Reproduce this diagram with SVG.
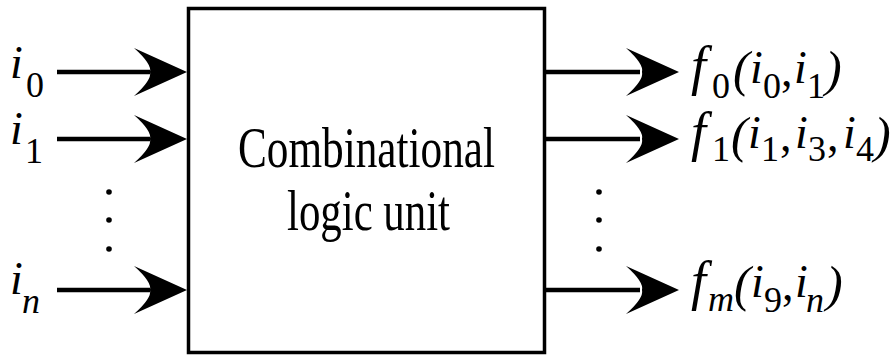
<svg xmlns="http://www.w3.org/2000/svg" width="894" height="358" viewBox="0 0 894 358">
<style>
  .t { font-family: "Liberation Serif", "Times New Roman", serif; fill: #000; }
  .it { font-style: italic; }
  .m { font-size: 46px; }
  .s { font-size: 36px; font-style: normal; }
  .si { font-size: 36px; font-style: italic; }
  .f { font-size: 54px; font-style: italic; }
  .p { font-size: 50px; font-style: italic; }
  .line { stroke: #000; stroke-width: 4.5; fill: none; }
  .head { fill: #000; stroke: none; }
  .dot { fill: #000; }
</style>
<rect width="894" height="358" fill="#fff"/>

<g id="unit">
  <rect x="188.5" y="8.5" width="356" height="344" fill="#fff" stroke="#000" stroke-width="3.5"/>
  <text class="t" x="366.5" y="167" font-size="57" text-anchor="middle" textLength="257" lengthAdjust="spacingAndGlyphs">Combinational</text>
  <text class="t" x="368.5" y="230" font-size="57" text-anchor="middle" textLength="163" lengthAdjust="spacingAndGlyphs">logic unit</text>
</g>

<g id="connectors">
  <line class="line" x1="57" y1="72" x2="150" y2="72"/>
  <path class="head" d="M187,72 L134,48 Q152,64 150,72 Q152,80 134,96 Z"/>
  <line class="line" x1="57" y1="139" x2="150" y2="139"/>
  <path class="head" d="M187,139 L134,115 Q152,131 150,139 Q152,147 134,163 Z"/>
  <line class="line" x1="57" y1="290" x2="150" y2="290"/>
  <path class="head" d="M187,290 L134,266 Q152,282 150,290 Q152,298 134,314 Z"/>

  <line class="line" x1="546" y1="72" x2="640" y2="72"/>
  <path class="head" d="M679,72 L626,48 Q644,64 642,72 Q644,80 626,96 Z"/>
  <line class="line" x1="546" y1="139" x2="640" y2="139"/>
  <path class="head" d="M679,139 L626,115 Q644,131 642,139 Q644,147 626,163 Z"/>
  <line class="line" x1="546" y1="290" x2="640" y2="290"/>
  <path class="head" d="M679,290 L626,266 Q644,282 642,290 Q644,298 626,314 Z"/>
</g>

<g id="input-dots">
  <circle class="dot" cx="109" cy="192" r="2.8"/>
  <circle class="dot" cx="109" cy="220" r="2.8"/>
  <circle class="dot" cx="109" cy="249" r="2.8"/>
</g>
<g id="output-dots">
  <circle class="dot" cx="599" cy="192" r="2.8"/>
  <circle class="dot" cx="599" cy="220" r="2.8"/>
  <circle class="dot" cx="599" cy="249" r="2.8"/>
</g>

<g id="in-i0">
  <text class="t"><tspan class="m it" x="10" y="78">i</tspan><tspan class="s" x="26" y="97">0</tspan></text>
</g>
<g id="in-i1">
  <text class="t"><tspan class="m it" x="10" y="144">i</tspan><tspan class="s" x="25" y="163">1</tspan></text>
</g>
<g id="in-in">
  <text class="t"><tspan class="m it" x="10" y="294">i</tspan><tspan class="si" x="22" y="313">n</tspan></text>
</g>

<g id="out-f0">
  <text class="t"><tspan class="f" x="691" y="84">f</tspan><tspan class="s" x="712" y="98">0</tspan><tspan class="p" x="733" y="86">(</tspan><tspan class="m it" x="750" y="83">i</tspan><tspan class="s" x="763" y="98">0</tspan><tspan class="m" x="781" y="86">,</tspan><tspan class="m it" x="794" y="83">i</tspan><tspan class="s" x="807" y="98">1</tspan><tspan class="p" x="825" y="86">)</tspan></text>
</g>
<g id="out-f1">
  <text class="t"><tspan class="f" x="691" y="150">f</tspan><tspan class="s" x="712" y="161">1</tspan><tspan class="p" x="731" y="152">(</tspan><tspan class="m it" x="748" y="148">i</tspan><tspan class="s" x="761" y="161">1</tspan><tspan class="m" x="780" y="151">,</tspan><tspan class="m it" x="795" y="148">i</tspan><tspan class="s" x="808" y="161">3</tspan><tspan class="m" x="827" y="151">,</tspan><tspan class="m it" x="843" y="148">i</tspan><tspan class="s" x="856" y="161">4</tspan><tspan class="p" x="874" y="152">)</tspan></text>
</g>
<g id="out-fm">
  <text class="t"><tspan class="f" x="691" y="299">f</tspan><tspan class="si" x="708" y="311">m</tspan><tspan class="p" x="734" y="301">(</tspan><tspan class="m it" x="751" y="297">i</tspan><tspan class="s" x="764" y="312">9</tspan><tspan class="m" x="782" y="300">,</tspan><tspan class="m it" x="795" y="297">i</tspan><tspan class="si" x="806" y="312">n</tspan><tspan class="p" x="826" y="301">)</tspan></text>
</g>
</svg>
